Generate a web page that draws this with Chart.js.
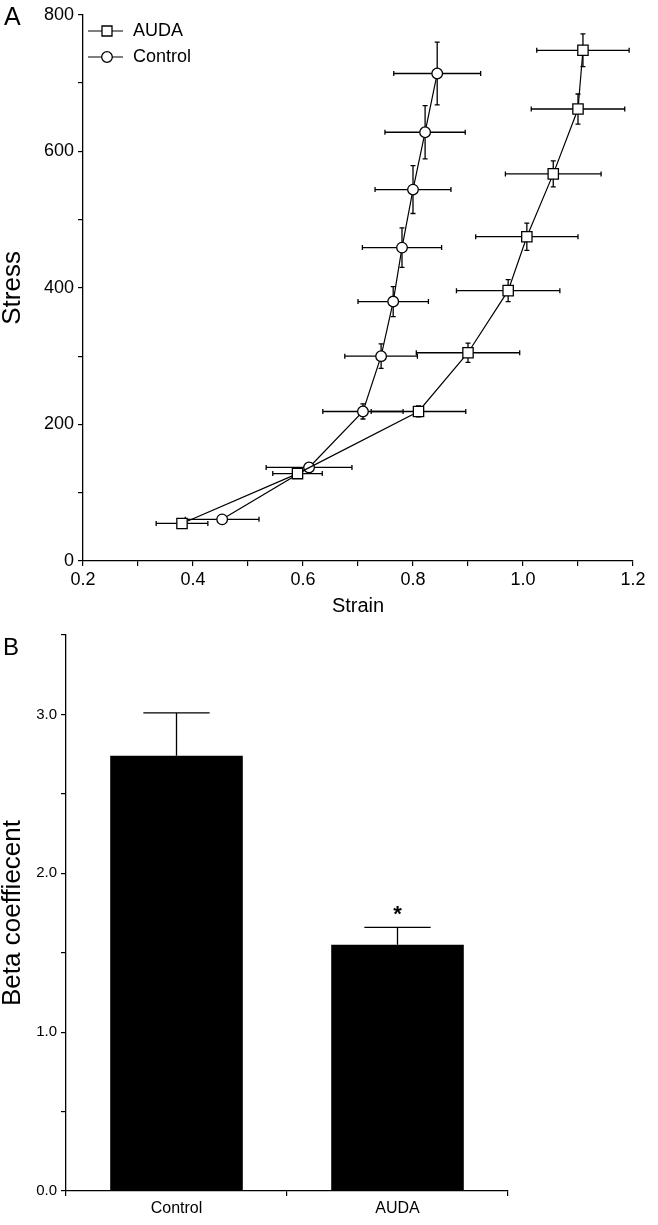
<!DOCTYPE html>
<html>
<head>
<meta charset="utf-8">
<script src="https://cdn.jsdelivr.net/npm/chart.js@4.4.1/dist/chart.umd.min.js"></script>
<style>
  body { margin: 0; background: #fff; }
  canvas { display: block; }
</style>
</head>
<body>
<canvas id="stressChart" width="658" height="620"></canvas>
<canvas id="betaChart" width="658" height="605"></canvas>
<script>
// Panel A: stress-strain, mean +/- error in both directions
const audaStrain = [0.38, 0.59, 0.81, 0.90, 0.973, 1.007, 1.055, 1.10, 1.109];
const audaStress = [55, 128, 219, 305, 396, 475, 567, 662, 748];
const audaStrainErr = [0.047, 0.045, 0.086, 0.094, 0.094, 0.093, 0.087, 0.085, 0.084];
const audaStressErr = [3, 4, 8, 14, 16, 20, 19, 22, 24];

const controlStrain = [0.453, 0.611, 0.709, 0.742, 0.764, 0.78, 0.80, 0.822, 0.844];
const controlStress = [61, 137, 219, 300, 380, 459, 544, 628, 714];
const controlStrainErr = [0.067, 0.078, 0.073, 0.066, 0.064, 0.072, 0.069, 0.073, 0.079];
const controlStressErr = [3, 6, 11, 18, 22, 29, 35, 39, 46];

// Panel B: beta coefficient
const groups = ['Control', 'AUDA'];
const beta = [2.74, 1.55];
const betaErr = [0.27, 0.11];
const marks = ['', '*'];

const FONT = '"Liberation Sans", Arial, sans-serif';

function points(xs, ys, xe, ye) {
  return xs.map((v, i) => ({ x: v, y: ys[i], xErr: xe[i], yErr: ye[i] }));
}

const xyErrors = {
  id: 'xyErrors',
  beforeDatasetsDraw(chart) {
    const { ctx, scales: { x, y } } = chart;
    const cap = 2.5;
    ctx.save();
    ctx.strokeStyle = '#000';
    ctx.lineWidth = 1.3;
    chart.data.datasets.forEach(ds => {
      ds.data.forEach(p => {
        const px = x.getPixelForValue(p.x);
        const py = y.getPixelForValue(p.y);
        const xl = x.getPixelForValue(p.x - p.xErr);
        const xr = x.getPixelForValue(p.x + p.xErr);
        const yt = y.getPixelForValue(p.y + p.yErr);
        const yb = y.getPixelForValue(p.y - p.yErr);
        ctx.beginPath();
        ctx.moveTo(xl, py); ctx.lineTo(xr, py);
        ctx.moveTo(xl, py - cap); ctx.lineTo(xl, py + cap);
        ctx.moveTo(xr, py - cap); ctx.lineTo(xr, py + cap);
        ctx.moveTo(px, yt); ctx.lineTo(px, yb);
        ctx.moveTo(px - cap, yt); ctx.lineTo(px + cap, yt);
        ctx.moveTo(px - cap, yb); ctx.lineTo(px + cap, yb);
        ctx.stroke();
      });
    });
    ctx.restore();
  }
};

// legend drawn inside the plot, top left
const insideLegend = {
  id: 'insideLegend',
  afterDraw(chart) {
    const { ctx } = chart;
    ctx.save();
    ctx.font = '18px ' + FONT;
    ctx.textBaseline = 'middle';
    chart.data.datasets.forEach((ds, i) => {
      const cy = 31 + i * 26;
      ctx.strokeStyle = '#000';
      ctx.lineWidth = 1.2;
      ctx.beginPath();
      ctx.moveTo(88, cy); ctx.lineTo(123, cy);
      ctx.stroke();
      ctx.fillStyle = '#fff';
      ctx.lineWidth = 1.3;
      ctx.beginPath();
      if (ds.pointStyle === 'rect') {
        ctx.rect(107 - 5, cy - 5, 10, 10);
      } else {
        ctx.arc(107, cy, 5.3, 0, Math.PI * 2);
      }
      ctx.fill(); ctx.stroke();
      ctx.fillStyle = '#000';
      ctx.fillText(ds.label, 133, cy);
    });
    ctx.font = '25px ' + FONT;
    ctx.textBaseline = 'alphabetic';
    ctx.fillText('A', 4, 25);
    ctx.restore();
  }
};

function axisStyle() {
  return {
    grid: { display: true, drawOnChartArea: false, drawTicks: true, tickLength: 5, color: '#000', lineWidth: 1.2 },
    border: { display: true, color: '#000', width: 1.3 }
  };
}

new Chart(document.getElementById('stressChart'), {
  type: 'scatter',
  data: {
    datasets: [{
      label: 'AUDA',
      data: points(audaStrain, audaStress, audaStrainErr, audaStressErr),
      showLine: true,
      borderColor: '#000',
      borderWidth: 1.2,
      pointStyle: 'rect',
      pointRadius: 7.3,
      pointBorderWidth: 1.3,
      pointBackgroundColor: '#fff',
      pointBorderColor: '#000'
    }, {
      label: 'Control',
      data: points(controlStrain, controlStress, controlStrainErr, controlStressErr),
      showLine: true,
      borderColor: '#000',
      borderWidth: 1.2,
      pointStyle: 'circle',
      pointRadius: 5.3,
      pointBorderWidth: 1.3,
      pointBackgroundColor: '#fff',
      pointBorderColor: '#000'
    }]
  },
  options: {
    responsive: false,
    animation: false,
    events: [],
    layout: { padding: { left: 0, top: 12, right: 25, bottom: 0 } },
    plugins: { legend: { display: false }, tooltip: { enabled: false } },
    scales: {
      x: {
        type: 'linear', min: 0.2, max: 1.2,
        ...axisStyle(),
        afterFit(s) { s.height = 59; },
        ticks: {
          stepSize: 0.1, padding: 3, color: '#000', maxRotation: 0, autoSkip: false,
          font: { family: FONT, size: 18 },
          callback: v => Math.round(v * 10) % 2 === 0 ? v.toFixed(1) : ''
        },
        title: { display: true, text: 'Strain', color: '#000', font: { family: FONT, size: 20 }, padding: { top: 0, bottom: 2 } }
      },
      y: {
        type: 'linear', min: 0, max: 800,
        ...axisStyle(),
        afterFit(s) { s.width = 83; },
        ticks: {
          stepSize: 100, padding: 4, color: '#000', autoSkip: false,
          font: { family: FONT, size: 18 },
          callback: v => v % 200 === 0 ? v : ''
        },
        title: { display: true, text: 'Stress', color: '#000', font: { family: FONT, size: 26, lineHeight: 1 }, padding: 0 }
      }
    }
  },
  plugins: [xyErrors, insideLegend]
});

// Panel B
const barErrors = {
  id: 'barErrors',
  afterDatasetsDraw(chart) {
    const { ctx, scales: { y } } = chart;
    const meta = chart.getDatasetMeta(0);
    ctx.save();
    ctx.strokeStyle = '#000';
    ctx.lineWidth = 1.3;
    meta.data.forEach((bar, i) => {
      const top = y.getPixelForValue(beta[i]);
      const et = y.getPixelForValue(beta[i] + betaErr[i]);
      const half = bar.width / 4;
      ctx.beginPath();
      ctx.moveTo(bar.x, top); ctx.lineTo(bar.x, et);
      ctx.moveTo(bar.x - half, et); ctx.lineTo(bar.x + half, et);
      ctx.stroke();
      if (marks[i]) {
        ctx.fillStyle = '#000';
        ctx.font = 'bold 22px ' + FONT;
        ctx.textAlign = 'center';
        ctx.textBaseline = 'middle';
        ctx.fillText(marks[i], bar.x, et - 12);
      }
    });
    ctx.fillStyle = '#000';
    ctx.font = '24px ' + FONT;
    ctx.textAlign = 'left';
    ctx.textBaseline = 'alphabetic';
    ctx.fillText('B', 3, 35);
    ctx.restore();
  }
};

new Chart(document.getElementById('betaChart'), {
  type: 'bar',
  data: {
    labels: groups,
    datasets: [{
      data: beta,
      backgroundColor: '#000',
      borderWidth: 0,
      barPercentage: 0.6,
      categoryPercentage: 1
    }]
  },
  options: {
    responsive: false,
    animation: false,
    events: [],
    layout: { padding: { left: 0, top: 15, right: 150, bottom: 0 } },
    plugins: { legend: { display: false }, tooltip: { enabled: false } },
    scales: {
      x: {
        ...axisStyle(),
        grid: { display: true, drawOnChartArea: false, drawTicks: true, tickLength: 5, color: '#000', lineWidth: 1.2, offset: true },
        afterFit(s) { s.height = 34; },
        ticks: { padding: 3, color: '#000', font: { family: FONT, size: 16 } }
      },
      y: {
        min: 0, max: 3.5,
        ...axisStyle(),
        afterFit(s) { s.width = 66; },
        ticks: {
          stepSize: 0.5, padding: 4, color: '#000', autoSkip: false,
          font: { family: FONT, size: 15 },
          callback: v => Number.isInteger(v) ? v.toFixed(1) : ''
        },
        title: { display: true, text: 'Beta coeffiecent', color: '#000', font: { family: FONT, size: 26, lineHeight: 1 }, padding: 0 }
      }
    }
  },
  plugins: [barErrors]
});
</script>
</body>
</html>
